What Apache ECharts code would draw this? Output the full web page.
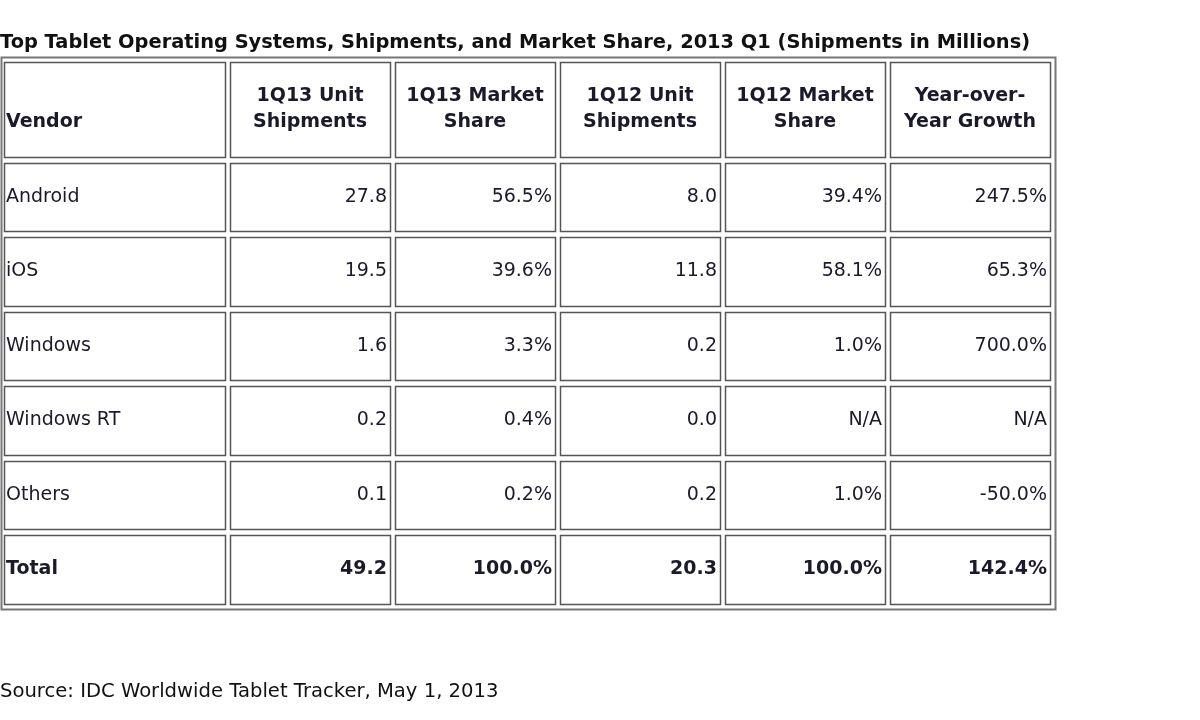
<!DOCTYPE html>
<html><head><meta charset="utf-8">
<script src="https://cdn.jsdelivr.net/npm/echarts@6/dist/echarts.min.js"></script>
<style>html,body{margin:0;padding:0;background:#fff}#c{width:1200px;height:720px}</style>
</head><body><div id="c"></div>
<script>
const headers = ["Vendor","1Q13 Unit\nShipments","1Q13 Market\nShare","1Q12 Unit\nShipments","1Q12 Market\nShare","Year-over-\nYear Growth"];
const vendors = ["Android","iOS","Windows","Windows RT","Others","Total"];
const ship1Q13 = ["27.8","19.5","1.6","0.2","0.1","49.2"];
const share1Q13 = ["56.5%","39.6%","3.3%","0.4%","0.2%","100.0%"];
const ship1Q12 = ["8.0","11.8","0.2","0.0","0.2","20.3"];
const share1Q12 = ["39.4%","58.1%","1.0%","N/A","1.0%","100.0%"];
const yoyGrowth = ["247.5%","65.3%","700.0%","N/A","-50.0%","142.4%"];

// layout (pixel grid)
const colX = [[4,225],[230,390],[395,555],[560,720],[725,885],[890,1050]];
const rowY = [[62,157],[163,231],[237,306],[312,380],[386,455],[461,529],[535,604]];

const cells = [];
headers.forEach((h,c)=>cells.push([c,0,h,1]));
const cols = [vendors,ship1Q13,share1Q13,ship1Q12,share1Q12,yoyGrowth];
vendors.forEach((v,r)=>{
  cols.forEach((arr,c)=>cells.push([c,r+1,arr[r], r===vendors.length-1?1:0]));
});

const FONT = '"DejaVu Sans", Verdana, sans-serif';
const chart = echarts.init(document.getElementById('c'));
chart.setOption({
  animation:false,
  grid:{left:0,right:0,top:0,bottom:0},
  xAxis:{type:'value',min:0,max:1200,show:false},
  yAxis:{type:'value',min:0,max:720,inverse:true,show:false},
  title:[
    {text:'Top Tablet Operating Systems, Shipments, and Market Share, 2013 Q1 (Shipments in Millions)',left:0,top:33,padding:0,
     textStyle:{fontFamily:FONT,fontSize:19.4,fontWeight:'bold',color:'#111'}},
    {text:'Source: IDC Worldwide Tablet Tracker, May 1, 2013',left:0,top:682,padding:0,
     textStyle:{fontFamily:FONT,fontSize:19.6,fontWeight:'normal',color:'#111'}}
  ],
  series:[{
    type:'custom',
    data:cells,
    renderItem:(params,api)=>{
      const c=api.value(0), r=api.value(1), bold=api.value(3)===1;
      const text=cells[params.dataIndex][2];
      const p0=api.coord([colX[c][0],rowY[r][0]]), p1=api.coord([colX[c][1],rowY[r][1]]);
      const children=[];
      if(params.dataIndex===0){
        const o0=api.coord([1,57]), o1=api.coord([1055,609]);
        children.push({type:'rect',shape:{x:o0[0]+0.5,y:o0[1]+0.5,width:o1[0]-o0[0],height:o1[1]-o0[1]},
          style:{fill:'none',stroke:'#777',lineWidth:2},z2:0});
      }
      children.push({type:'rect',shape:{x:p0[0]+0.5,y:p0[1]+0.5,width:p1[0]-p0[0],height:p1[1]-p0[1]},
        style:{fill:'#fff',stroke:'#555',lineWidth:1.5}});
      let align='right', tx=p1[0]-3;
      if(c===0){align='left';tx=p0[0]+2;}
      if(r===0 && c>0){align='center';tx=(p0[0]+p1[0])/2;}
      let ty=(p0[1]+p1[1])/2;
      if(r===0 && c===0) ty+=13;
      children.push({type:'text',style:{text:text,x:tx,y:ty,align:align,verticalAlign:'middle',
        font:(bold?'bold ':'')+'19px '+FONT,fill:'#1a1a2a',lineHeight:26}});
      return {type:'group',children};
    }
  }]
});
</script></body></html>
